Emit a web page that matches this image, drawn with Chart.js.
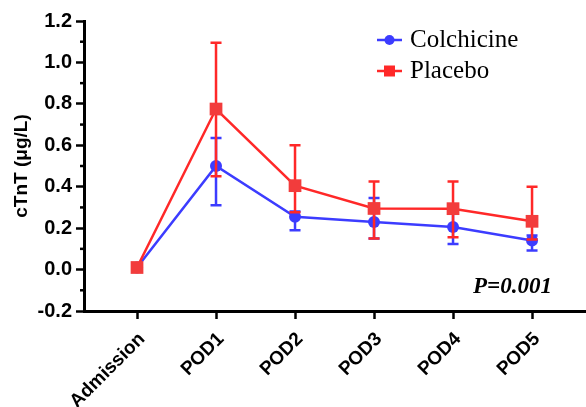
<!DOCTYPE html>
<html>
<head>
<meta charset="utf-8">
<script src="https://cdn.jsdelivr.net/npm/chart.js@4.4.1/dist/chart.umd.min.js"></script>
<style>
html, body { margin: 0; padding: 0; background: #fff; }
#wrap { width: 586px; height: 407px; }
</style>
</head>
<body>
<div id="wrap"><canvas id="chart"></canvas></div>
<script>
// values (mean with error bar ends)
const categories = ['Admission', 'POD1', 'POD2', 'POD3', 'POD4', 'POD5'];
const colchicine = [0.01, 0.50, 0.255, 0.23, 0.205, 0.14];
const colchicineLow = [0.00, 0.31, 0.19, 0.15, 0.124, 0.092];
const colchicineHigh = [0.02, 0.635, 0.28, 0.345, 0.27, 0.165];
const placebo = [0.01, 0.775, 0.405, 0.295, 0.294, 0.233];
const placeboLow = [0.00, 0.45, 0.277, 0.15, 0.156, 0.145];
const placeboHigh = [0.02, 1.095, 0.60, 0.425, 0.425, 0.40];
const yTicks = [-0.2, 0, 0.2, 0.4, 0.6, 0.8, 1.0, 1.2];
const yMinorTicks = [-0.1, 0.1, 0.3, 0.5, 0.7, 0.9, 1.1];

const BLUE = '#3c3cff';
const RED = '#ff2828';

function points(values) {
    return values.map((v, i) => ({ x: i, y: v }));
}

// error bars, drawn under each dataset's own line
const errorBars = {
    id: 'errorBars',
    beforeDatasetDraw(chart, args) {
        const ds = chart.data.datasets[args.index];
        const x = chart.scales.x;
        const y = chart.scales.y;
        const ctx = chart.ctx;
        ctx.save();
        ctx.strokeStyle = ds.borderColor;
        ctx.lineWidth = 2.5;
        ds.low.forEach((lo, i) => {
            const px = x.getPixelForValue(i);
            const top = y.getPixelForValue(ds.high[i]);
            const bot = y.getPixelForValue(lo);
            ctx.beginPath();
            ctx.moveTo(px, top); ctx.lineTo(px, bot);
            ctx.moveTo(px - 5.5, top); ctx.lineTo(px + 5.5, top);
            ctx.moveTo(px - 5.5, bot); ctx.lineTo(px + 5.5, bot);
            ctx.stroke();
        });
        ctx.restore();
    }
};

// minor ticks on y axis, legend and P value
const extras = {
    id: 'extras',
    afterDraw(chart) {
        const ctx = chart.ctx;
        const y = chart.scales.y;
        const left = chart.chartArea.left;
        ctx.save();
        ctx.strokeStyle = '#000';
        ctx.lineWidth = 2.5;
        yMinorTicks.forEach(v => {
            const py = y.getPixelForValue(v);
            ctx.beginPath();
            ctx.moveTo(left - 4, py); ctx.lineTo(left, py);
            ctx.stroke();
        });

        const items = [
            { text: 'Colchicine', color: BLUE, style: 'circle', y: 40 },
            { text: 'Placebo', color: RED, style: 'rect', y: 71 }
        ];
        items.forEach(it => {
            ctx.strokeStyle = it.color;
            ctx.fillStyle = it.color;
            ctx.lineWidth = 2.5;
            ctx.beginPath();
            ctx.moveTo(377, it.y); ctx.lineTo(402, it.y);
            ctx.stroke();
            ctx.beginPath();
            if (it.style === 'circle') {
                ctx.arc(389.5, it.y, 5, 0, Math.PI * 2);
            } else {
                ctx.rect(384, it.y - 5.5, 11, 11);
            }
            ctx.fill();
            ctx.fillStyle = '#000';
            ctx.font = '25px "Liberation Serif"';
            ctx.textBaseline = 'alphabetic';
            ctx.fillText(it.text, 410, it.y + 7);
        });

        ctx.fillStyle = '#000';
        ctx.font = 'italic bold 23px "Liberation Serif"';
        ctx.fillText('P=0.001', 473, 293);
        ctx.restore();
    }
};

new Chart(document.getElementById('chart'), {
    type: 'line',
    data: {
        datasets: [
            {
                label: 'Colchicine',
                data: points(colchicine),
                low: colchicineLow,
                high: colchicineHigh,
                borderColor: BLUE,
                backgroundColor: BLUE,
                borderWidth: 2.5,
                pointStyle: 'circle',
                pointRadius: 6,
                pointBorderWidth: 0,
                order: 1
            },
            {
                label: 'Placebo',
                data: points(placebo),
                low: placeboLow,
                high: placeboHigh,
                borderColor: RED,
                backgroundColor: '#f23c3c',
                borderWidth: 2.5,
                pointStyle: 'rect',
                pointRadius: 9,
                pointBorderWidth: 0,
                order: 0
            }
        ]
    },
    options: {
        responsive: true,
        maintainAspectRatio: false,
        animation: false,
        layout: { autoPadding: false, padding: { top: 21, right: 0, bottom: 0, left: 0 } },
        plugins: {
            legend: { display: false },
            tooltip: { enabled: false }
        },
        scales: {
            x: {
                type: 'linear',
                min: -0.671,
                max: 5.683,
                afterBuildTicks: scale => {
                    scale.ticks = categories.map((c, i) => ({ value: i }));
                },
                afterFit: scale => {
                    scale.height = 96;
                    scale.paddingLeft = 0;
                    scale.paddingRight = 0;
                },
                grid: { drawOnChartArea: false, tickLength: 8, tickWidth: 2.5, tickColor: '#000' },
                border: { color: '#000', width: 3 },
                ticks: {
                    callback: v => categories[v],
                    minRotation: 45,
                    maxRotation: 45,
                    color: '#000',
                    padding: 9,
                    labelOffset: 5,
                    font: { family: '"Liberation Sans"', weight: 'bold', size: 19 }
                }
            },
            y: {
                min: -0.2,
                max: 1.2,
                afterBuildTicks: scale => {
                    scale.ticks = yTicks.map(v => ({ value: v }));
                },
                afterFit: scale => {
                    scale.width = 84;
                    scale.paddingTop = 0;
                    scale.paddingBottom = 0;
                },
                grid: { drawOnChartArea: false, tickLength: 8, tickWidth: 2.5, tickColor: '#000' },
                border: { color: '#000', width: 3 },
                ticks: {
                    callback: v => v.toFixed(1),
                    color: '#000',
                    padding: 4,
                    font: { family: '"Liberation Sans"', weight: 'bold', size: 20 }
                },
                title: {
                    display: true,
                    text: 'cTnT (μg/L)',
                    color: '#000',
                    padding: { top: 10, bottom: 0 },
                    font: { family: '"Liberation Sans"', weight: 'bold', size: 19 }
                }
            }
        }
    },
    plugins: [errorBars, extras]
});
</script>
</body>
</html>
